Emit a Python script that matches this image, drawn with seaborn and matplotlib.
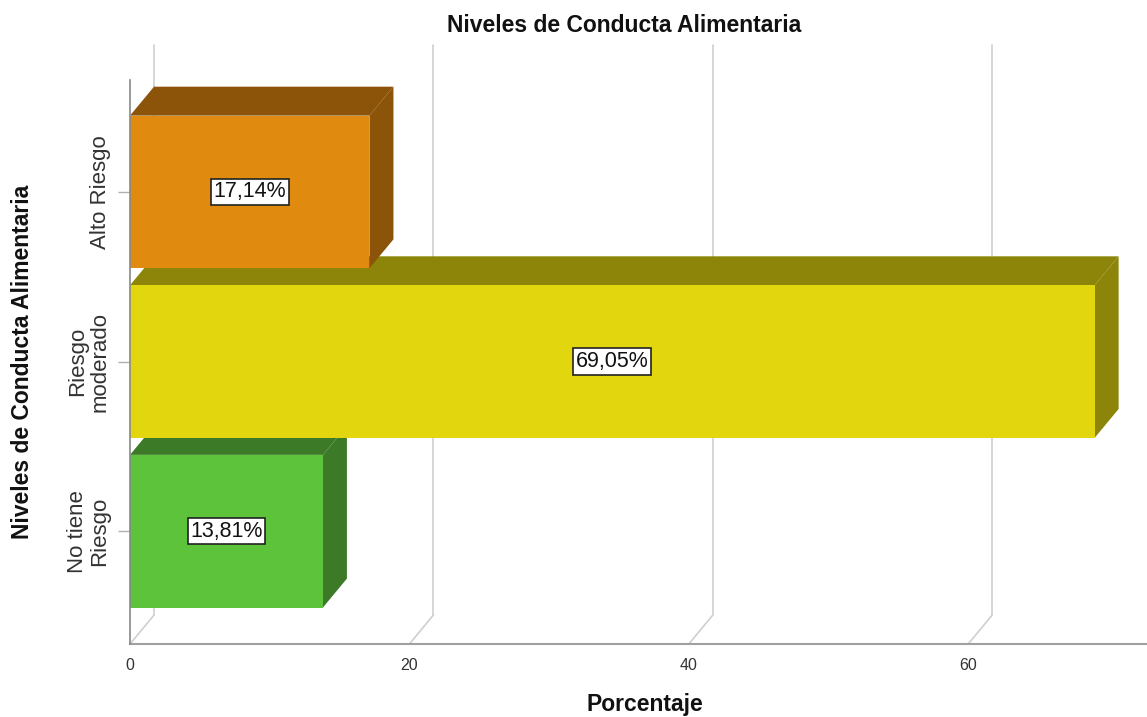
import matplotlib
matplotlib.use("Agg")
import matplotlib.pyplot as plt
import seaborn as sns
import pandas as pd
from matplotlib.patches import Polygon

categories = ["Alto Riesgo", "Riesgo\nmoderado", "No tiene\nRiesgo"]
values = [17.14, 69.05, 13.81]
labels = ["17,14%", "69,05%", "13,81%"]
front_colors = ["#E08A10", "#E2D70F", "#5DC33A"]
dark_colors = ["#8B5408", "#8C850A", "#3D7A27"]
xticks = [0, 20, 40, 60]

sns.set_theme(style="white")
plt.rcParams["font.family"] = ["Liberation Sans", "DejaVu Sans"]

fig = plt.figure(figsize=(11.47, 7.17), dpi=100)
ax = fig.add_axes([130/1147, 73/717, 1 - 130/1147, (644-80)/717])

df = pd.DataFrame({"cat": categories, "val": values})
sns.barplot(data=df, x="val", y="cat", hue="cat", palette=front_colors,
            orient="h", width=0.9, ax=ax, legend=False, saturation=1)

xmax = (1147 - 130) / 13.97
ylo, yhi = 2.665, -0.66
ax.set_xlim(0, xmax)
ax.set_ylim(ylo, yhi)

dx = 24 / 13.97
dy = 29 / 170.0
h = 0.45
ytop_back = -0.865

# back wall gridlines and floor diagonals
for xv in xticks:
    ax.plot([xv + dx, xv + dx], [ylo - dy, ytop_back], color="#cfcfcf", lw=1.2,
            zorder=0.5, clip_on=False)
    ax.plot([xv, xv + dx], [ylo, ylo - dy], color="#cfcfcf", lw=1.2,
            zorder=0.5, clip_on=False)

n = len(values)
for i, (v, fc, dc) in enumerate(zip(values, front_colors, dark_colors)):
    z = 2 + 2 * (n - 1 - i)
    c = i
    top = Polygon([(0, c - h), (v, c - h), (v + dx, c - h - dy), (dx, c - h - dy)],
                  closed=True, facecolor=dc, edgecolor="none", zorder=z - 0.5, clip_on=False)
    side = Polygon([(v, c - h), (v + dx, c - h - dy), (v + dx, c + h - dy), (v, c + h)],
                   closed=True, facecolor=dc, edgecolor="none", zorder=z - 0.5, clip_on=False)
    ax.add_patch(top)
    ax.add_patch(side)

bars = []
for cont in ax.containers:
    bars.extend(list(cont))
for p in bars:
    yc = p.get_y() + p.get_height() / 2
    idx = int(round(yc))
    p.set_zorder(2 + 2 * (n - 1 - idx))
    p.set_edgecolor("none")
    p.set_linewidth(0)

for i, (v, lab) in enumerate(zip(values, labels)):
    ax.text(v / 2, i, lab, ha="center", va="center", fontsize=15.5, color="#111111",
            zorder=20,
            bbox=dict(boxstyle="square,pad=0.12", facecolor="white", edgecolor="#222222", lw=1.2))

for s in ["top", "right"]:
    ax.spines[s].set_visible(False)
ax.spines["left"].set_color("#888888")
ax.spines["left"].set_linewidth(1.2)
ax.spines["bottom"].set_color("#a0a0a0")
ax.spines["bottom"].set_linewidth(1.5)
ax.spines["left"].set_zorder(30)

ax.set_xticks(xticks)
ax.set_xticklabels([str(t) for t in xticks], fontsize=11.5, color="#333333")
ax.tick_params(axis="x", length=0, pad=10)
ax.set_yticks(range(n))
ax.set_yticklabels(categories, rotation=90, va="center", ha="right",
                   fontsize=16, color="#333333", multialignment="center",
                   linespacing=1.1)
ax.tick_params(axis="y", left=True, length=9, color="#b0b0b0", pad=5, width=1)

ax.set_xlabel("")
ax.set_ylabel("")
ax.text(0.506, -0.108, "Porcentaje", transform=ax.transAxes, ha="center", va="center",
        fontsize=16.5, fontweight="bold", color="#111111")
ax.text(-0.106, 0.5, "Niveles de Conducta Alimentaria", transform=ax.transAxes,
        ha="center", va="center", rotation=90, fontsize=16.5, fontweight="bold", color="#111111")
ax.text(0.486, 1.0975, "Niveles de Conducta Alimentaria", transform=ax.transAxes,
        ha="center", va="center", fontsize=16.5, fontweight="bold", color="#111111")

fig.savefig("out.png", dpi=100)
